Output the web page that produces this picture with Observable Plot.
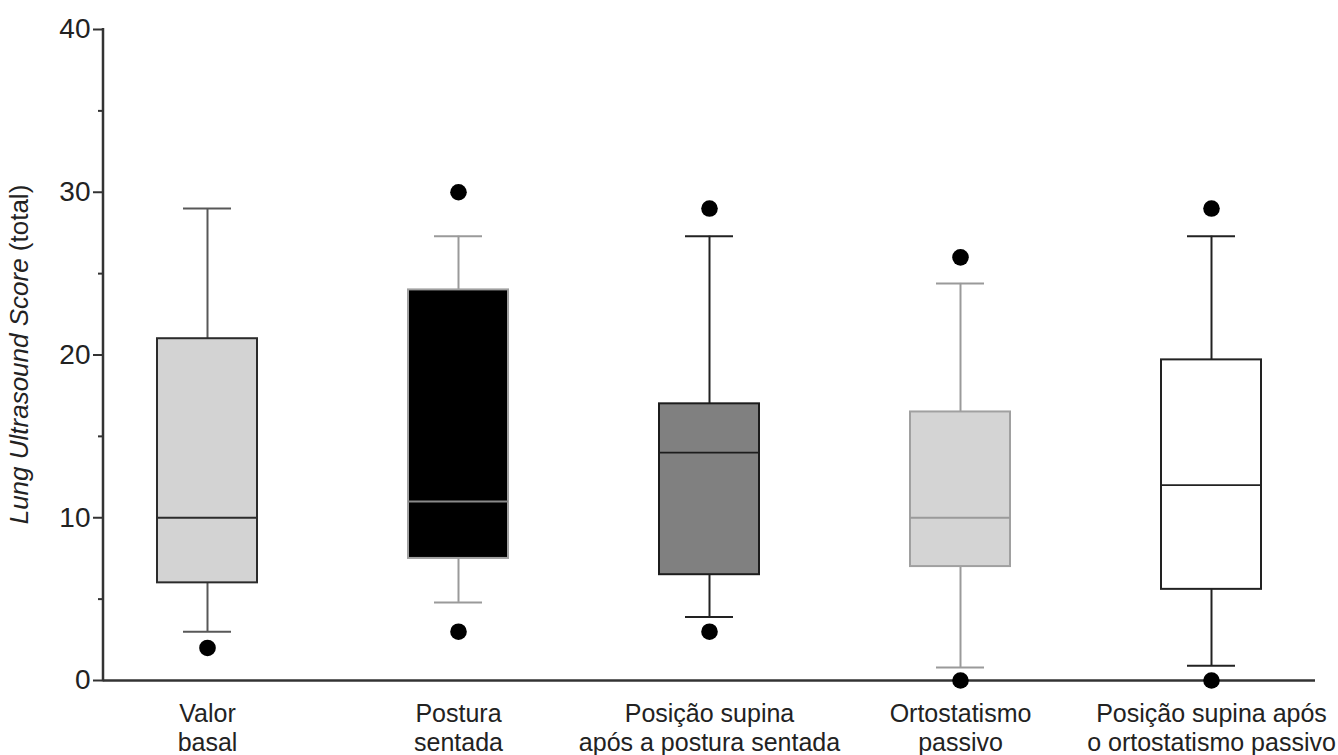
<!DOCTYPE html>
<html>
<head>
<meta charset="utf-8">
<script src="https://cdn.jsdelivr.net/npm/d3@7"></script>
<script src="https://cdn.jsdelivr.net/npm/@observablehq/plot@0.6"></script>
<style>
  html, body { margin: 0; padding: 0; background: #fff; }
  #chart svg { display: block; }
</style>
</head>
<body>
<div id="chart"></div>
<script>
// ---- data ----
const categories = [
  "Valor\nbasal",
  "Postura\nsentada",
  "Posição supina\napós a postura sentada",
  "Ortostatismo\npassivo",
  "Posição supina após\no ortostatismo passivo"
];
const q1Values      = [6.0, 7.5, 6.5, 7.0, 5.6];
const medianValues  = [10.0, 11.0, 14.0, 10.0, 12.0];
const q3Values      = [21.0, 24.0, 17.0, 16.5, 19.7];
const whiskerLow    = [3.0, 4.8, 3.9, 0.8, 0.9];
const whiskerHigh   = [29.0, 27.3, 27.3, 24.4, 27.3];
const outlierGroup  = [0, 1, 1, 2, 2, 3, 3, 4, 4];
const outlierValues = [2, 30, 3, 29, 3, 26, 0, 29, 0];
const majorTicks = [0, 10, 20, 30, 40];
const minorTicks = [5, 15, 25, 35];

// ---- styles ----
const boxFill      = ["#d3d3d3", "#000000", "#808080", "#d4d4d4", "#ffffff"];
const boxStroke    = ["#2b2b2b", "#a0a0a0", "#1c1c1c", "#a0a0a0", "#222222"];
const whiskerColor = ["#585858", "#9a9a9a", "#222222", "#9a9a9a", "#222222"];
const medianColor  = ["#2b2b2b", "#8a8a8a", "#1c1c1c", "#9a9a9a", "#222222"];

const boxes = categories.map((c, i) => ({
  category: c, i,
  q1: q1Values[i], median: medianValues[i], q3: q3Values[i],
  lo: whiskerLow[i], hi: whiskerHigh[i]
}));
const outliers = outlierGroup.map((g, k) => ({category: categories[g], value: outlierValues[k]}));

const FONT = "Liberation Sans, Arial, Helvetica, sans-serif";
const W = 1338, H = 755, ML = 103, MR = 23, MT = 29, MB = 75;

const plot = Plot.plot({
  width: W,
  height: H,
  marginLeft: ML,
  marginRight: MR,
  marginTop: MT,
  marginBottom: MB,
  style: {fontFamily: FONT, background: "#fff", color: "#222", overflow: "visible"},
  color: {type: "identity"},
  x: {type: "band", domain: categories, paddingInner: 0.6, paddingOuter: 0.205, align: 0.5},
  y: {domain: [0, 40], range: [H - MB, MT]},
  marks: [
    Plot.axisX({tickSize: 0, tickPadding: 21, fontSize: 25, lineHeight: 1.15, label: null, fill: "#222"}),
    Plot.axisY({ticks: majorTicks, tickSize: 10, tickPadding: 3, fontSize: 28, label: null,
                stroke: "#333", strokeWidth: 2, fill: "#222"}),
    Plot.axisY({ticks: minorTicks, tickSize: 5, text: null, label: null,
                stroke: "#333", strokeWidth: 2}),
    // x axis line
    Plot.ruleY([0], {stroke: "#333", strokeWidth: 2.5}),
    // whiskers
    Plot.ruleX(boxes, {x: "category", y1: "q3", y2: "hi", stroke: d => whiskerColor[d.i], strokeWidth: 2}),
    Plot.ruleX(boxes, {x: "category", y1: "lo", y2: "q1", stroke: d => whiskerColor[d.i], strokeWidth: 2}),
    // caps
    Plot.tickY(boxes, {x: "category", y: "hi", stroke: d => whiskerColor[d.i], strokeWidth: 2, insetLeft: 26, insetRight: 26}),
    Plot.tickY(boxes, {x: "category", y: "lo", stroke: d => whiskerColor[d.i], strokeWidth: 2, insetLeft: 26, insetRight: 26}),
    // boxes
    Plot.barY(boxes, {x: "category", y1: "q1", y2: "q3", fill: d => boxFill[d.i], stroke: d => boxStroke[d.i], strokeWidth: 2}),
    // medians
    Plot.tickY(boxes, {x: "category", y: "median", stroke: d => medianColor[d.i], strokeWidth: 1.8}),
    // outliers
    Plot.dot(outliers, {x: "category", y: "value", r: 8.3, fill: "#000", stroke: "none"})
  ]
});

// y axis line and label, using the plot's own y scale
const ys = plot.scale("y");
const svg = d3.select(plot);
svg.append("line")
  .attr("x1", ML).attr("x2", ML)
  .attr("y1", ys.apply(0) + 1.25).attr("y2", ys.apply(40) - 1)
  .attr("stroke", "#333").attr("stroke-width", 2.5);

const label = svg.append("text")
  .attr("transform", `translate(28,${(ys.apply(0) + ys.apply(40)) / 2}) rotate(-90)`)
  .attr("text-anchor", "middle")
  .attr("font-family", FONT)
  .attr("font-size", 26)
  .attr("fill", "#222");
label.append("tspan").attr("font-style", "italic").text("Lung Ultrasound Score");
label.append("tspan").text(" (total)");

document.getElementById("chart").appendChild(plot);
</script>
</body>
</html>
